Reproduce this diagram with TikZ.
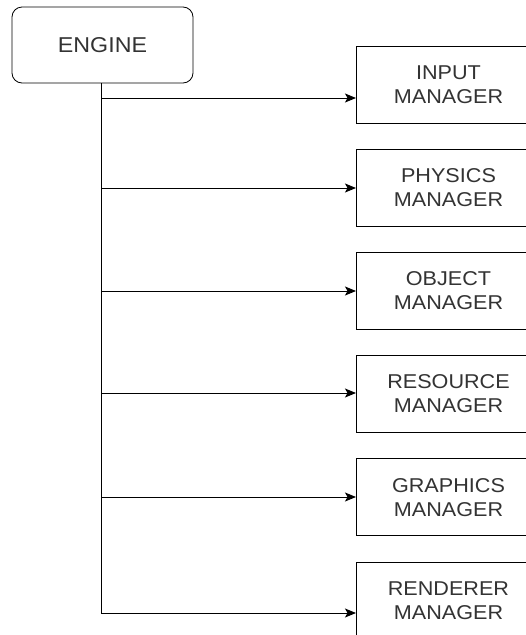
\documentclass[tikz,border=0pt]{standalone}
\usepackage{fontspec}
\setmainfont{Liberation Sans}[FakeStretch=1.08]
\usetikzlibrary{arrows.meta}
\begin{document}
\begin{tikzpicture}[x=1pt,y=-1pt,
  box/.style={draw=black, line width=1pt, minimum width=184pt, minimum height=77pt, anchor=west,
    align=center, font=\fontsize{20}{24}\selectfont, text=black!80, inner sep=0pt},
  enginebox/.style={draw=black, line width=0.8pt, rounded corners=10pt, minimum width=181pt, minimum height=76pt,
    font=\fontsize{21.5}{24}\selectfont, text=black!80},
  link/.style={line width=1pt, -{Stealth[length=11pt,width=9pt,inset=2.5pt]}}]
\useasboundingbox (0,0) rectangle (526,635);
\clip (0,0) rectangle (526,635);
\node[enginebox] (engine) at (102.5,45) {ENGINE};
\node[box] (m1) at (356,84.5) {INPUT\\MANAGER};
\node[box] (m2) at (356,187.7) {PHYSICS\\MANAGER};
\node[box] (m3) at (356,290.9) {OBJECT\\MANAGER};
\node[box] (m4) at (356,394.1) {RESOURCE\\MANAGER};
\node[box] (m5) at (356,497.3) {GRAPHICS\\MANAGER};
\node[box] (m6) at (356,600.5) {RENDERER\\MANAGER};
\coordinate (b1) at (101,98);
\coordinate (b2) at (101,188);
\coordinate (b3) at (101,291);
\coordinate (b4) at (101,393);
\coordinate (b5) at (101,497);
\coordinate (b6) at (101,613);
\draw[line width=1pt] (engine.south -| b1) -- (b6);
\foreach \i in {1,...,6} {
  \draw[link] (b\i) -- (b\i -| m\i.west);
}
\end{tikzpicture}
\end{document}
